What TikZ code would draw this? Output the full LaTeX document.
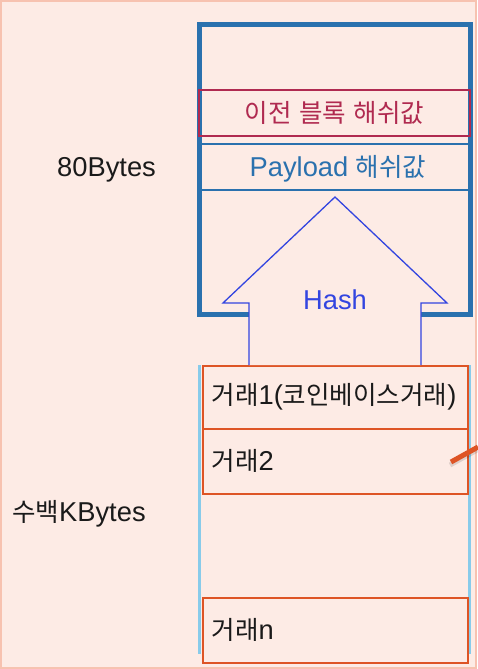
\documentclass[tikz,border=0pt]{standalone}
\usepackage{fontspec}
\setmainfont{Liberation Sans}
\newfontfamily\kr[Scale=0.935]{Noto Sans CJK KR}
\usepackage{xcolor}
\usetikzlibrary{positioning}
\definecolor{pagebg}{HTML}{FDEBE5}
\definecolor{pageframe}{HTML}{F7C2B0}
\definecolor{hdrblue}{HTML}{2A71AE}
\definecolor{prevred}{HTML}{B02A50}
\definecolor{hashblue}{HTML}{3345E0}
\definecolor{bodyblue}{HTML}{88CBEA}
\definecolor{txorange}{HTML}{DE5425}
\definecolor{ink}{HTML}{1A1A1A}
\tikzset{
  label/.style={font=\fontsize{27.3}{32}\selectfont, text=ink, inner sep=0pt},
  header/.style={draw=hdrblue, line width=5pt, line join=miter},
  field/.style={draw=hdrblue, line width=1.5pt},
  prevbox/.style={draw=prevred, line width=1.5pt, minimum width=271pt, minimum height=46pt,
    inner sep=0pt, font=\fontsize{27.3}{32}\selectfont, text=prevred},
  hasharrow/.style={draw=hashblue, fill=pagebg, line width=1.3pt, line join=miter},
  body/.style={draw=bodyblue, line width=3pt},
  txbox/.style={draw=txorange, line width=1.5pt, fill=pagebg, minimum width=265pt, minimum height=63pt,
    text width=247pt, inner xsep=9pt, inner ysep=0pt, align=left, anchor=north west,
    font=\fontsize{27.3}{32}\selectfont, text=ink},
  pointer/.style={draw=txorange, line width=5pt},
}

\begin{document}
\begin{tikzpicture}[x=1pt, y=-1pt]
  \useasboundingbox (0,0) rectangle (477,669);
  \fill[pagebg] (0,0) rectangle (477,669);
  \draw[pageframe, line width=2pt] (1,1) rectangle (476,668);

  % block header
  \draw[header] (199.5,25) rectangle (470.5,314.5);
  \node[prevbox] (prev) at (334.5,113) {{\kr 이전} {\kr 블록} {\kr 해쉬값}};
  \draw[field] (199.5,144) -- (468,144);
  \draw[field] (199.5,190) -- (468,190);
  \node[label, text=hdrblue] (payload) at (338,169) {Payload {\kr 해쉬값}};
  \node[label, anchor=west] (hdrsize) at (57,170) {80Bytes};

  % block body
  \draw[body] (199.5,365) -- (199.5,654);
  \draw[body] (469.5,365) -- (469.5,654);
  \node[txbox] (tx1) at (202,365) {{\kr 거래}1({\kr 코인베이스거래})};
  \node[txbox, minimum height=65pt] (tx2) at (202,428) {{\kr 거래}2};
  \node[txbox, minimum height=65pt] (txn) at (202,597) {{\kr 거래}n};
  \node[label, anchor=west] (bodysize) at (12,514) {{\kr 수백}KBytes};

  % hash arrow
  \draw[hasharrow] (249,365) -- (249,303) -- (223,303) -- (335,197)
    -- (447,303) -- (421,303) -- (421,365);
  \node[label, text=hashblue] (hash) at (335,300) {Hash};

  % pointer
  \coordinate (ptrend) at (478,447);
  \draw[black, opacity=0.12, line width=5pt] (450,465) -- (477,450);
  \draw[pointer] (451,462) -- (ptrend);
\end{tikzpicture}
\end{document}
